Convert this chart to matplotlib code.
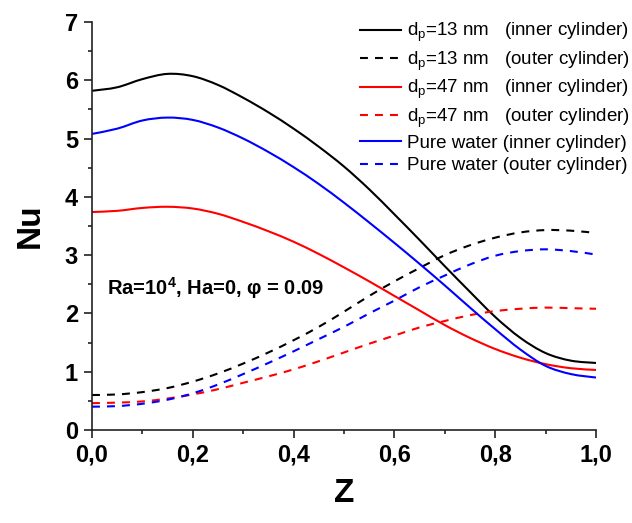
import matplotlib
matplotlib.use("Agg")
import matplotlib.pyplot as plt
from matplotlib.path import Path
from matplotlib.patches import PathPatch
from matplotlib.lines import Line2D
from matplotlib.ticker import MultipleLocator, FixedLocator, FixedFormatter

plt.rcParams['font.family'] = ['Liberation Sans', 'DejaVu Sans']
plt.rcParams['mathtext.fontset'] = 'custom'
plt.rcParams['mathtext.rm'] = 'Liberation Sans'
plt.rcParams['mathtext.bf'] = 'Liberation Sans:bold'
plt.rcParams['mathtext.default'] = 'regular'

Z = [0.00, 0.05, 0.10, 0.15, 0.20, 0.25, 0.30, 0.35, 0.40, 0.45, 0.50,
     0.55, 0.60, 0.65, 0.70, 0.75, 0.80, 0.85, 0.90, 0.95, 1.00]

nu_13_inner = [5.82, 5.88, 6.02, 6.11, 6.07, 5.92, 5.70, 5.45, 5.17, 4.86, 4.52,
               4.13, 3.70, 3.26, 2.81, 2.37, 1.94, 1.58, 1.32, 1.19, 1.15]
nu_13_outer = [0.60, 0.61, 0.65, 0.72, 0.83, 0.97, 1.14, 1.33, 1.54, 1.77, 2.03,
               2.30, 2.55, 2.78, 3.00, 3.17, 3.30, 3.39, 3.43, 3.42, 3.38]
nu_47_inner = [3.74, 3.76, 3.81, 3.83, 3.80, 3.71, 3.57, 3.41, 3.23, 3.02, 2.79,
               2.55, 2.30, 2.05, 1.80, 1.58, 1.39, 1.24, 1.13, 1.06, 1.03]
nu_47_outer = [0.46, 0.47, 0.49, 0.54, 0.61, 0.70, 0.81, 0.92, 1.04, 1.18, 1.33,
               1.48, 1.62, 1.76, 1.87, 1.97, 2.04, 2.08, 2.10, 2.09, 2.08]
nu_w_inner = [5.08, 5.17, 5.31, 5.36, 5.32, 5.19, 5.00, 4.77, 4.51, 4.22, 3.90,
              3.56, 3.21, 2.85, 2.48, 2.10, 1.73, 1.38, 1.10, 0.96, 0.90]
nu_w_outer = [0.40, 0.41, 0.45, 0.52, 0.63, 0.78, 0.96, 1.15, 1.35, 1.56, 1.77,
              2.00, 2.22, 2.45, 2.65, 2.84, 2.99, 3.07, 3.10, 3.07, 3.01]

labels = [r'd$_\mathregular{p}$=13 nm   (inner cylinder)',
          r'd$_\mathregular{p}$=13 nm   (outer cylinder)',
          r'd$_\mathregular{p}$=47 nm   (inner cylinder)',
          r'd$_\mathregular{p}$=47 nm   (outer cylinder)',
          'Pure water (inner cylinder)',
          'Pure water (outer cylinder)']
series = [nu_13_inner, nu_13_outer, nu_47_inner, nu_47_outer, nu_w_inner, nu_w_outer]
colors = ['black', 'black', '#ff0000', '#ff0000', '#0000ff', '#0000ff']
styles = ['solid', 'dashed', 'solid', 'dashed', 'solid', 'dashed']

x_ticks = [0.0, 0.2, 0.4, 0.6, 0.8, 1.0]
x_ticklabels = ['0,0', '0,2', '0,4', '0,6', '0,8', '1,0']
y_ticks = [0, 1, 2, 3, 4, 5, 6, 7]
y_ticklabels = ['0', '1', '2', '3', '4', '5', '6', '7']

DASH = (0, (3.8, 3.4))
LW = 1.5


def smooth_path(xs, ys):
    """Bezier path through the data points (Catmull-Rom tangents)."""
    pts = list(zip(xs, ys))
    n = len(pts)
    verts = [pts[0]]
    codes = [Path.MOVETO]
    for i in range(n - 1):
        p0 = pts[i - 1] if i > 0 else pts[i]
        p1 = pts[i]
        p2 = pts[i + 1]
        p3 = pts[i + 2] if i + 2 < n else pts[i + 1]
        c1 = (p1[0] + (p2[0] - p0[0]) / 6, p1[1] + (p2[1] - p0[1]) / 6)
        c2 = (p2[0] - (p3[0] - p1[0]) / 6, p2[1] - (p3[1] - p1[1]) / 6)
        verts += [c1, c2, p2]
        codes += [Path.CURVE4] * 3
    return Path(verts, codes)


fig = plt.figure(figsize=(6.32, 5.23), dpi=100)
ax = fig.add_axes([92/632, 1-430/523, 504/632, 408/523])

handles = []
for y, c, s in zip(series, colors, styles):
    ls = DASH if s == 'dashed' else 'solid'
    patch = PathPatch(smooth_path(Z, y), facecolor='none', edgecolor=c,
                      lw=LW, linestyle=ls, capstyle='butt', joinstyle='round')
    ax.add_patch(patch)
    handles.append(Line2D([], [], color=c, lw=LW, linestyle=ls))

ax.set_xlim(0, 1)
ax.set_ylim(0, 7)
for sp in ['top', 'right']:
    ax.spines[sp].set_visible(False)
for sp in ['left', 'bottom']:
    ax.spines[sp].set_linewidth(1.2)
    ax.spines[sp].set_color('#222222')

ax.xaxis.set_major_locator(FixedLocator(x_ticks))
ax.xaxis.set_major_formatter(FixedFormatter(x_ticklabels))
ax.xaxis.set_minor_locator(MultipleLocator(0.1))
ax.yaxis.set_major_locator(FixedLocator(y_ticks))
ax.yaxis.set_major_formatter(FixedFormatter(y_ticklabels))
ax.yaxis.set_minor_locator(MultipleLocator(0.5))
ax.tick_params(which='major', direction='out', length=6, width=1.2, color='#222222',
               labelsize=17, pad=4)
ax.tick_params(which='minor', direction='out', length=3, width=1.2, color='#222222')
for t in ax.get_xticklabels() + ax.get_yticklabels():
    t.set_fontweight('bold')

ax.set_xlabel('Z', fontsize=24, fontweight='bold', labelpad=8)
ax.set_ylabel('Nu', fontsize=24, fontweight='bold', labelpad=14)

ax.text(0.03, 2.44, r'Ra=10$^\mathbf{4}$, Ha=0, φ = 0.09', fontsize=14.5,
        fontweight='bold', va='center', ha='left')

leg = fig.legend(handles, labels, loc='upper left',
                 bbox_to_anchor=(360/632, 1 - 21/523), frameon=False,
                 fontsize=13.5, handlelength=2.2, handletextpad=0.3,
                 labelspacing=0.28, borderpad=0.0, borderaxespad=0.0)

fig.savefig('out.png', dpi=100)
